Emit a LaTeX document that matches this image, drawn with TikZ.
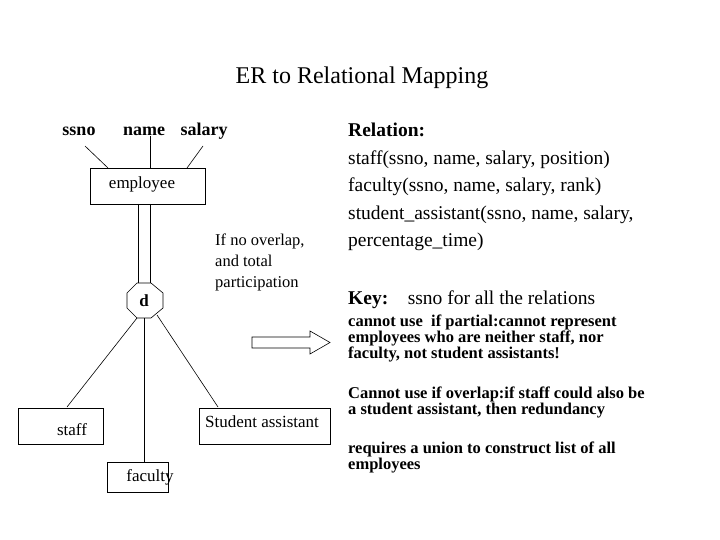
\documentclass[tikz,border=0pt]{standalone}
\usepackage{fontspec}
\setmainfont{Liberation Serif}
\begin{document}
\begin{tikzpicture}[x=1pt,y=-1pt,
  box/.style={draw,line width=0.6pt},
  ln/.style={line width=0.6pt},
  txt/.style={anchor=base west,inner sep=0pt,font=\fontsize{19.5}{22}\selectfont},
  sm/.style={anchor=north west,inner sep=0pt,font=\fontsize{16.5}{16}\selectfont\bfseries,align=left},
  lab/.style={inner sep=0pt,font=\fontsize{17}{19}\selectfont},
  att/.style={inner sep=0pt,font=\fontsize{18}{20}\selectfont\bfseries}]
\useasboundingbox (0,0) rectangle (720,540);
\node[inner sep=0pt,font=\fontsize{24}{26}\selectfont] (title) at (362,78) {ER to Relational Mapping};
% attributes
\node[att] (ssno) at (79,131) {ssno};
\node[att] (name) at (144,131) {name};
\node[att] (salary) at (204,131) {salary};
% entity
\draw[box] (90,168) rectangle (205,204);
\node[lab] (emp) at (142,184) {employee};
\coordinate (e1) at (108,168); \coordinate (e2) at (150,168); \coordinate (e3) at (187,168);
\draw[ln] (85,146) -- (e1);
\draw[ln] (150,136) -- (e2);
\draw[ln] (203,146) -- (e3);
% double line
\draw[ln] (138,204) -- (138,284);
\draw[ln] (150,204) -- (150,284);
% octagon
\draw[ln,fill=white] (137,283) -- (151,283) -- (163,293) -- (163,308) -- (151,318) -- (137,318) -- (127,308) -- (127,293) -- cycle;
\node[inner sep=0pt,font=\fontsize{17}{18}\selectfont\bfseries] (d) at (144,301) {d};
% subclasses
\draw[box] (18,408) rectangle (103,444);
\node[lab] (staff) at (72,430) {staff};
\draw[box] (107,462) rectangle (168,492);
\node[lab] (fac) at (150,477) {faculty};
\draw[box] (199,408) rectangle (330,444);
\node[lab] (sa) at (262,422) {Student assistant};
\draw[ln] (137,318) -- (67,407);
\draw[ln] (144,318) -- (144,462);
\draw[ln] (157,315) -- (218,407);
% note
\node[anchor=north west,inner sep=0pt,align=left,font=\fontsize{16.5}{21}\selectfont] (note) at (215,234) {If no overlap,\\and total\\participation};
% arrow
\draw[ln,fill=white] (252,337) -- (310,337) -- (310,331) -- (330,342.5) -- (310,354) -- (310,348) -- (252,348) -- cycle;
% right text
\node[txt,font=\fontsize{19.5}{22}\selectfont\bfseries] (rel) at (348,137) {Relation:};
\node[txt] (r1) at (348,165) {staff(ssno, name, salary, position)};
\node[txt] (r2) at (348,192) {faculty(ssno, name, salary, rank)};
\node[txt] (r3) at (348,220) {student\_assistant(ssno, name, salary,};
\node[txt] (r4) at (348,246) {percentage\_time)};
\node[txt] (key) at (348,304) {\textbf{Key:}\quad ssno for all the relations};
\node[sm] (c1) at (348,315) {cannot use\ \ if partial:cannot represent\\employees who are neither staff, nor\\faculty, not student assistants!};
\node[sm] (c2) at (348,387) {Cannot use if overlap:if staff could also be\\a student assistant, then redundancy};
\node[sm] (c3) at (348,442) {requires a union to construct list of all\\employees};
\end{tikzpicture}
\end{document}
